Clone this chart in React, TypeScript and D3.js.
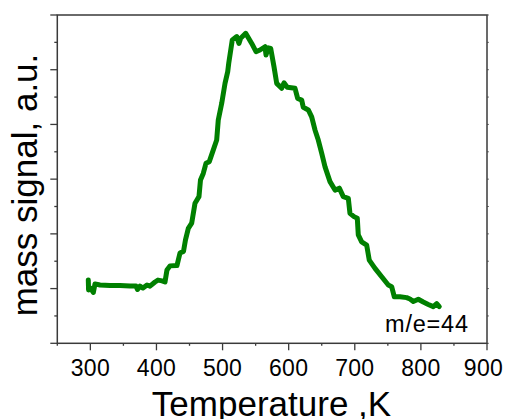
import React from "react";
import * as d3 from "d3";

const temperature = [
  296.9, 297.3, 300.2, 304.5, 307.0, 314.6, 329.7, 344.8, 360.0, 369.0,
  371.3, 375.1, 379.6, 385.7, 390.2, 397.8, 402.3, 408.4, 412.9, 415.9,
  420.5, 431.0, 435.6, 440.9, 443.9, 448.2, 453.3, 458.3, 464.3, 466.6,
  470.8, 474.9, 479.9, 486.0, 491.1, 493.5, 498.7, 503.7, 507.8, 509.3,
  514.7, 521.4, 524.8, 527.4, 535.0, 544.1, 550.6, 556.6, 564.2, 565.7,
  569.2, 572.8, 577.8, 581.9, 589.4, 592.9, 597.9, 609.6, 613.6, 619.7,
  622.1, 629.7, 634.8, 639.8, 644.8, 650.0, 655.0, 662.5, 670.1, 676.6,
  682.6, 690.2, 692.7, 698.8, 703.8, 705.3, 710.4, 718.0, 721.9, 730.6,
  740.7, 750.7, 755.8, 759.8, 768.4, 778.5, 783.5, 788.5, 796.1, 803.6,
  811.2, 818.8, 823.9, 827.8,
];
const signal = [
  2.31, 1.95, 2.02, 1.86, 2.17, 2.13, 2.11, 2.11, 2.09, 2.09,
  1.97, 2.09, 2.02, 2.13, 2.09, 2.24, 2.31, 2.28, 2.24, 2.68,
  2.83, 2.84, 3.30, 3.36, 3.78, 4.20, 4.39, 5.12, 5.36, 5.97,
  6.21, 6.58, 6.64, 7.07, 7.43, 8.16, 8.77, 9.50, 9.93, 10.23,
  11.09, 11.21, 10.96, 11.15, 11.33, 10.96, 10.66, 10.72, 10.84, 10.54,
  10.80, 10.78, 10.11, 9.50, 9.32, 9.52, 9.36, 9.32, 8.95, 8.89,
  8.63, 8.53, 8.28, 7.80, 7.43, 6.94, 6.45, 5.91, 5.60, 5.67,
  5.36, 5.30, 4.75, 4.63, 4.57, 3.96, 3.71, 3.59, 3.04, 2.74,
  2.43, 2.13, 2.07, 1.70, 1.70, 1.67, 1.62, 1.53, 1.61, 1.51,
  1.42, 1.34, 1.45, 1.34,
];
const xTickLabels = [300, 400, 500, 600, 700, 800, 900];
const xMinorTicks = [250, 350, 450, 550, 650, 750, 850];
const yTicks = [0, 1, 2, 3, 4, 5, 6, 7, 8, 9, 10, 11, 12];
const seriesLabel = "m/e=44";
const xTitle = "Temperature ,K";
const yTitle = "mass signal, a.u.";

const W = 505;
const H = 419;
const L = 57.3;
const R = 487;
const T = 15;
const B = 343.3;
const FONT = "'Liberation Sans', Arial, sans-serif";

export default function App() {
  const x = d3.scaleLinear().domain([250, 900]).range([L, R]);
  const y = d3.scaleLinear().domain([0, 12]).range([B, T]);
  const pts: [number, number][] = temperature.map((t, i) => [t, signal[i]]);
  const line = d3
    .line<[number, number]>()
    .x((d) => x(d[0]))
    .y((d) => y(d[1]));
  const axisColor = "#3a3a3a";
  return (
    <svg
      width={W}
      height={H}
      style={{ position: "absolute", left: 0, top: 0, background: "#fff" }}
    >
      <rect x={0} y={0} width={W} height={H} fill="#fff" />
      {yTicks.map((v) => (
        <line
          key={"yl" + v}
          x1={L - (v % 2 === 0 ? 7 : 3)}
          x2={L}
          y1={y(v)}
          y2={y(v)}
          stroke={axisColor}
          strokeWidth={1.3}
        />
      ))}
      {yTicks.map((v) => (
        <line
          key={"yr" + v}
          x1={R}
          x2={R + 2}
          y1={y(v)}
          y2={y(v)}
          stroke="#777"
          strokeWidth={1}
        />
      ))}
      {xTickLabels.map((v) => (
        <line
          key={"xb" + v}
          x1={x(v)}
          x2={x(v)}
          y1={B}
          y2={B + 7}
          stroke={axisColor}
          strokeWidth={1.3}
        />
      ))}
      {xMinorTicks.map((v) => (
        <line
          key={"xm" + v}
          x1={x(v)}
          x2={x(v)}
          y1={B}
          y2={B + 2.5}
          stroke={axisColor}
          strokeWidth={1.3}
        />
      ))}
      <rect
        x={L}
        y={T}
        width={R - L}
        height={B - T}
        fill="none"
        stroke={axisColor}
        strokeWidth={1.5}
      />
      {xTickLabels.map((v) => (
        <text
          key={"xt" + v}
          x={Math.min(x(v), 483.5)}
          y={376}
          textAnchor="middle"
          fontFamily={FONT}
          fontSize={23}
          letterSpacing={0.3}
          fill="#000"
        >
          {v}
        </text>
      ))}
      <path
        d={line(pts) || ""}
        fill="none"
        stroke="#008000"
        strokeWidth={5}
        strokeLinejoin="round"
        strokeLinecap="round"
      />
      <text
        x={385}
        y={331.5}
        fontFamily={FONT}
        fontSize={23.5}
        letterSpacing={0.8}
        fill="#000"
      >
        {seriesLabel}
      </text>
      <text
        x={271.5}
        y={416}
        textAnchor="middle"
        fontFamily={FONT}
        fontSize={35}
        fill="#000"
      >
        {xTitle}
      </text>
      <text
        transform={`translate(37,185) rotate(-90)`}
        textAnchor="middle"
        fontFamily={FONT}
        fontSize={35}
        fill="#000"
      >
        {yTitle}
      </text>
    </svg>
  );
}
